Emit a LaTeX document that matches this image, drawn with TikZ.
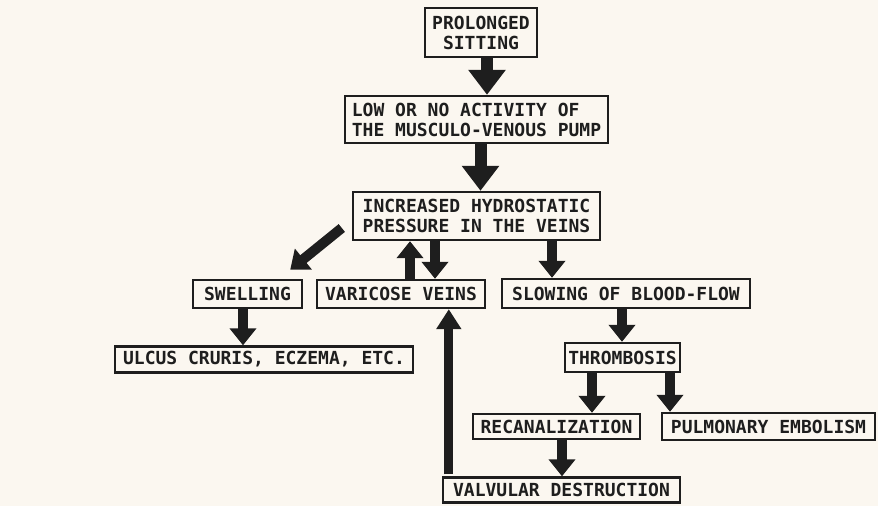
\documentclass[tikz,border=0pt]{standalone}
\usepackage{fontspec}
\setmonofont{DejaVu Sans Mono}
\usetikzlibrary{arrows.meta,calc}
\definecolor{paper}{RGB}{251,247,240}
\definecolor{ink}{RGB}{30,30,30}
\begin{document}
\begin{tikzpicture}[x=1pt,y=-1pt,
  box/.style={draw=ink, line width=2.4pt, inner sep=0pt, text=ink, align=center,
    font=\ttfamily\bfseries\fontsize{18}{20}\selectfont},
  flow/.style={draw=ink, line width=10pt, -{Triangle[width=26pt,length=17pt]}},
  bigflow/.style={draw=ink, line width=12pt, -{Triangle[width=36pt,length=25pt]}},
  longflow/.style={draw=ink, line width=9pt, -{Triangle[width=24pt,length=20pt]}}]
\fill[paper] (0,0) rectangle (878,506);
\useasboundingbox (0,0) rectangle (878,506);

\node[box, minimum width=112pt, minimum height=49pt] (ps) at (481,32.5) {PROLONGED\\SITTING};
\node[box, minimum width=263pt, minimum height=47pt, align=left] (low) at (476.5,119.5) {LOW OR NO ACTIVITY OF\\THE MUSCULO-VENOUS PUMP};
\node[box, minimum width=247pt, minimum height=48pt] (inc) at (476.5,216) {INCREASED HYDROSTATIC\\PRESSURE IN THE VEINS};
\node[box, minimum width=109pt, minimum height=28pt] (swe) at (247.5,294) {SWELLING};
\node[box, minimum width=168pt, minimum height=28pt] (var) at (401,294) {VARICOSE VEINS};
\node[box, minimum width=248pt, minimum height=29pt] (slow) at (626,293.5) {SLOWING OF BLOOD-FLOW};
\node[box, minimum width=298pt, minimum height=26pt] (ulc) at (264,359.5) {ULCUS CRURIS, ECZEMA, ETC.};
\node[box, minimum width=115pt, minimum height=29pt] (thr) at (622.5,357.5) {THROMBOSIS};
\node[box, minimum width=167pt, minimum height=25pt] (rec) at (556.5,426.5) {RECANALIZATION};
\node[box, minimum width=213pt, minimum height=27pt] (pul) at (768.5,426.5) {PULMONARY EMBOLISM};
\node[box, minimum width=237pt, minimum height=25pt] (val) at (561.5,490) {VALVULAR DESTRUCTION};

\draw[bigflow] ($(ps.south)+(6,0)$) -- ($(ps.south|-low.north)+(6,0)$);
\draw[bigflow] ($(low.south)+(4,0)$) -- ($(low.south|-inc.north)+(4,0)$);
\draw[flow] ($(inc.west)+(-10,12)$) -- ($(swe.north east)+(-13,-9)$);
\draw[flow] ($(var.north)+(9,0)$) -- ($(var.north|-inc.south)+(9,0)$);
\draw[flow] ($(inc.south)+(-41.5,0)$) -- ($(inc.south|-var.north)+(-41.5,0)$);
\draw[flow] ($(inc.south)+(75.5,0)$) -- ($(inc.south|-slow.north)+(75.5,0)$);
\draw[flow] ($(swe.south)+(-4.5,0)$) -- ($(swe.south|-ulc.north)+(-4.5,0)$);
\draw[flow] ($(slow.south)+(-4,0)$) -- ($(slow.south|-thr.north)+(-4,0)$);
\draw[flow] ($(thr.south)+(-30.5,0)$) -- ($(thr.south|-rec.north)+(-30.5,0)$);
\draw[flow] ($(thr.south)+(47.5,0)$) -- ($(thr.south|-pul.north)+(47.5,0)$);
\draw[flow] ($(rec.south)+(5.5,0)$) -- ($(rec.south|-val.north)+(5.5,0)$);
\draw[longflow] ($(val.north west)+(7,-2)$) -- ($(val.north west|-var.south)+(7,0)$);
\end{tikzpicture}
\end{document}
